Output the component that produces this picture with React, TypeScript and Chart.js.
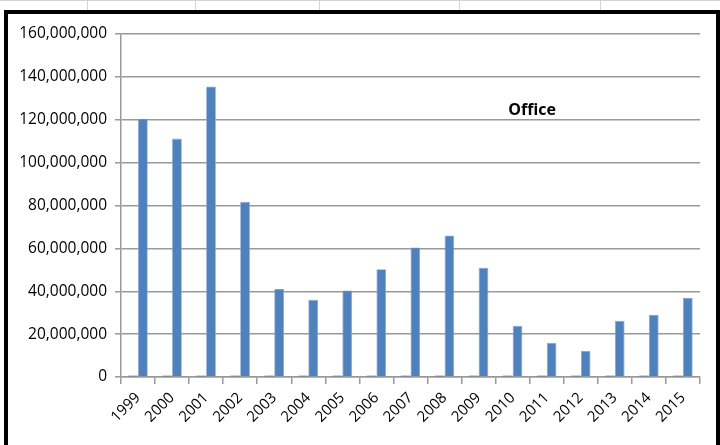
import React, { useEffect, useRef } from "react";
import { Chart, registerables } from "chart.js";

Chart.register(...registerables);

const years = ["1999","2000","2001","2002","2003","2004","2005","2006","2007","2008","2009","2010","2011","2012","2013","2014","2015"];
const minorSeries = [600000,600000,600000,600000,600000,600000,600000,600000,600000,600000,600000,600000,600000,600000,600000,600000,600000];
const officeValues = [120500000,111200000,135500000,81700000,41000000,36000000,40400000,50300000,60400000,66000000,51000000,23900000,15900000,12300000,26200000,29000000,36800000];
const yTicks = [0,20000000,40000000,60000000,80000000,100000000,120000000,140000000,160000000];
const chartLabel = "Office";

const FONT = "'Open Sans', 'Noto Sans', sans-serif";

const officeLabelPlugin = {
  id: "officeLabel",
  afterDraw(chart: any) {
    const { ctx, chartArea } = chart;
    ctx.save();
    ctx.font = `bold 16px ${FONT}`;
    ctx.fillStyle = "#000";
    ctx.textAlign = "center";
    ctx.textBaseline = "middle";
    ctx.fillText(chartLabel, chartArea.left + (chartArea.right - chartArea.left) * 0.71, 110);
    ctx.restore();
  },
};

export default function App() {
  const ref = useRef<HTMLCanvasElement>(null);
  useEffect(() => {
    if (!ref.current) return;
    const chart = new Chart(ref.current, {
      type: "bar",
      data: {
        labels: years,
        datasets: [
          {
            label: "minor",
            data: minorSeries,
            backgroundColor: "#3f6594",
            categoryPercentage: 0.57,
            barPercentage: 1,
          },
          {
            label: chartLabel,
            data: officeValues,
            backgroundColor: "#4F81BD",
            borderColor: "#7fa3d3",
            borderWidth: 0.8,
            categoryPercentage: 0.57,
            barPercentage: 1,
          },
        ],
      },
      options: {
        responsive: false,
        animation: false,
        maintainAspectRatio: false,
        layout: { padding: { top: 34, right: 20, left: 0, bottom: 0 } },
        plugins: {
          legend: { display: false },
          tooltip: { enabled: false },
          title: { display: false },
        },
        scales: {
          x: {
            grid: {
              offset: true,
              drawOnChartArea: false,
              drawTicks: true,
              tickLength: 7,
              color: "#999",
              lineWidth: 1.5,
            },
            border: { display: true, color: "#999", width: 1.5 },
            ticks: {
              maxRotation: 45,
              minRotation: 45,
              autoSkip: false,
              padding: 5,
              color: "#000",
              font: { family: FONT, size: 15 },
            },
            afterFit(scale: any) {
              scale.height = 68;
            },
          },
          y: {
            min: 0,
            max: 160000000,
            afterBuildTicks(scale: any) {
              scale.ticks = yTicks.map((v) => ({ value: v }));
            },
            grid: {
              color: "#999",
              lineWidth: 1.5,
              drawTicks: true,
              tickLength: 6,
            },
            border: { display: true, color: "#999", width: 1.5 },
            ticks: {
              padding: 8,
              color: "#000",
              font: { family: FONT, size: 15.5 },
              callback: (v: any) => Number(v).toLocaleString("en-US"),
            },
            afterFit(scale: any) {
              scale.width = 121;
            },
          },
        },
      },
      plugins: [officeLabelPlugin],
    });
    return () => chart.destroy();
  }, []);

  const topLines = [87, 195, 319, 459, 600];
  return (
    <div style={{ position: "fixed", left: 0, top: 0, width: 720, height: 445, background: "#fff", overflow: "hidden" }}>
      <div style={{ position: "absolute", left: 0, top: 0, width: 720, height: 1, background: "#d4d4d4" }} />
      {topLines.map((x) => (
        <div key={x} style={{ position: "absolute", left: x, top: 0, width: 1, height: 11, background: "#d4d4d4" }} />
      ))}
      <canvas ref={ref} width={720} height={445} style={{ position: "absolute", left: 0, top: 0 }} />
      <div style={{ position: "absolute", left: 4, top: 10, width: 716, height: 4, background: "#000" }} />
      <div style={{ position: "absolute", left: 4, top: 10, width: 4, height: 435, background: "#000" }} />
      <div style={{ position: "absolute", left: 716, top: 10, width: 4, height: 435, background: "#000" }} />
    </div>
  );
}
